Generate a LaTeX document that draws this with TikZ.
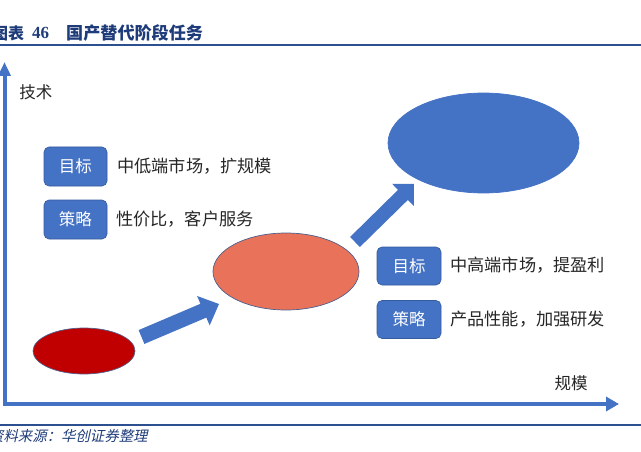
\documentclass[tikz,border=0pt]{standalone}
\usepackage{fontspec}
\usetikzlibrary{arrows.meta,shapes.geometric}
\newfontfamily\cjk{Noto Sans CJK SC}
\newfontfamily\cjkit{Noto Sans CJK SC}[FakeSlant=0.22]
\newfontfamily\serifb{Liberation Serif}
\definecolor{accent}{HTML}{4472C4}
\definecolor{navy}{HTML}{1F3C7A}
\definecolor{rule}{HTML}{2C4F8F}
\definecolor{darkred}{HTML}{C00000}
\definecolor{salmon}{HTML}{E8735A}
\definecolor{rim}{HTML}{4E5F8C}
\definecolor{txt}{HTML}{262626}
\tikzset{
  tagbox/.style={draw=accent!80!black, line width=0.6pt, fill=accent, rounded corners=5pt,
    minimum width=63pt, minimum height=39pt, inner sep=0pt, text=white,
    font=\cjk\fontsize{16.5}{18}\selectfont},
  desc/.style={anchor=west, inner sep=0pt, text=txt, font=\cjk\fontsize{17.2}{19}\selectfont},
  axislabel/.style={inner sep=0pt, text=txt, font=\cjk\fontsize{16.5}{18}\selectfont},
  blob/.style={ellipse, draw=rim, line width=0.7pt, inner sep=0pt},
  blockarrow/.style={fill=accent, draw=none},
  axis/.style={draw=accent, line width=4pt, line join=miter,
    {Triangle[width=12pt,length=14pt]}-{Triangle[width=14pt,length=13pt]}},
  headrule/.style={draw=rule, line width=1.6pt}
}
\begin{document}
\begin{tikzpicture}[x=1pt,y=-1pt]
\useasboundingbox (0,0) rectangle (641,452);
% header
\node[anchor=west, inner sep=0pt, text=navy, font=\cjk\bfseries\fontsize{16}{18}\selectfont] (t1) at (-8,33) {图表};
\node[anchor=west, inner sep=0pt, text=navy, font=\serifb\bfseries\fontsize{17}{18}\selectfont] (t2) at (32,33) {46};
\node[anchor=west, inner sep=0pt, text=navy, font=\cjk\bfseries\fontsize{17.1}{18}\selectfont] (t3) at (66,33) {国产替代阶段任务};
\coordinate (hl) at (0,45); \coordinate (hr) at (641,45);
\draw[headrule] (hl) -- (hr);
% footer
\coordinate (fl) at (0,424.7); \coordinate (fr) at (641,424.7);
\draw[headrule] (fl) -- (fr);
\node[anchor=west, inner sep=0pt, text=navy, font=\cjkit\fontsize{14.4}{15}\selectfont] (src) at (-11,436) {资料来源：华创证券整理};
% axes
\coordinate (ytip) at (4.5,62);
\coordinate (origin) at (4.5,404);
\coordinate (xtip) at (619,404);
\draw[axis] (ytip) -- (origin) -- (xtip);
\node[axislabel] (ylab) at (36,92) {技术};
\node[axislabel] (xlab) at (571,383) {规模};
% ellipses
\node[blob, fill=darkred, minimum width=102pt, minimum height=46pt] (e1) at (84,351) {};
\node[blob, fill=salmon, minimum width=146pt, minimum height=77pt] (e2) at (286,271.5) {};
\node[blob, fill=accent, draw=accent, minimum width=191pt, minimum height=100pt] (e3) at (483.5,143) {};
% block arrows
\fill[blockarrow] (138.6,330.1) -- (200.4,303.8) -- (197.1,296.0) -- (219,304)
  -- (209.7,325.4) -- (206.3,317.6) -- (144.4,343.9) -- cycle;
\fill[blockarrow] (350.1,237.0) -- (398.0,189.9) -- (392.1,183.8) -- (414,184)
  -- (413.8,205.9) -- (407.9,199.9) -- (359.9,247.0) -- cycle;
% left boxes
\node[tagbox] (g1) at (75.5,166.5) {目标};
\node[tagbox] (s1) at (75.5,219.5) {策略};
\node[desc] (g1t) at (117,166) {中低端市场，扩规模};
\node[desc] (s1t) at (116,219) {性价比，客户服务};
% right boxes
\node[tagbox, minimum width=64pt, minimum height=38pt] (g2) at (409,266) {目标};
\node[tagbox, minimum width=64pt, minimum height=38pt] (s2) at (409,319.5) {策略};
\node[desc] (g2t) at (450,265) {中高端市场，提盈利};
\node[desc] (s2t) at (450,319) {产品性能，加强研发};
\end{tikzpicture}
\end{document}
